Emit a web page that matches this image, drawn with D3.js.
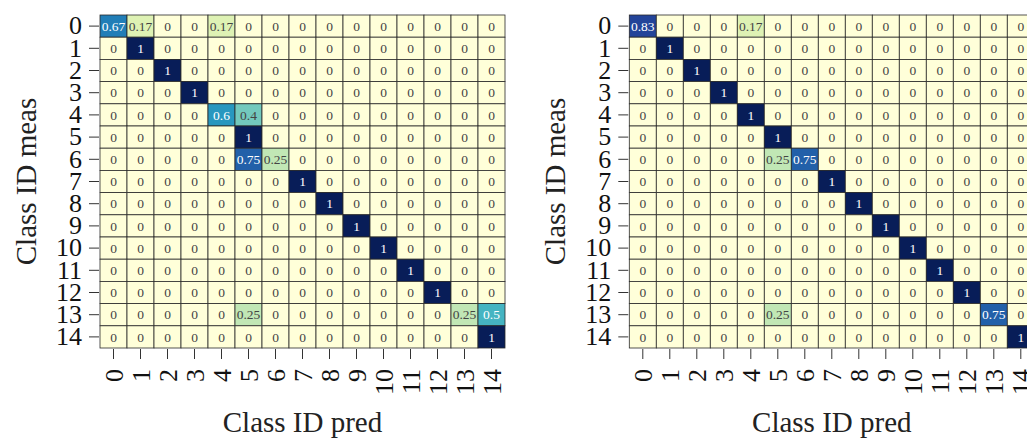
<!DOCTYPE html>
<html>
<head>
<meta charset="utf-8">
<script src="https://cdn.jsdelivr.net/npm/d3@7"></script>
<style>
  html, body { margin: 0; padding: 0; background: #fff; overflow: hidden; }
  svg { display: block; }
  text { font-family: "Liberation Serif", "Times New Roman", serif; }
</style>
</head>
<body>
<svg id="chart" width="1027" height="438"></svg>
<script>
const classes = ["0","1","2","3","4","5","6","7","8","9","10","11","12","13","14"];
const xLabel = "Class ID pred";
const yLabel = "Class ID meas";

// rows = measured class, columns = predicted class
const leftMatrix = [
  [0.67,0.17,0,0,0.17,0,0,0,0,0,0,0,0,0,0],
  [0,1,0,0,0,0,0,0,0,0,0,0,0,0,0],
  [0,0,1,0,0,0,0,0,0,0,0,0,0,0,0],
  [0,0,0,1,0,0,0,0,0,0,0,0,0,0,0],
  [0,0,0,0,0.6,0.4,0,0,0,0,0,0,0,0,0],
  [0,0,0,0,0,1,0,0,0,0,0,0,0,0,0],
  [0,0,0,0,0,0.75,0.25,0,0,0,0,0,0,0,0],
  [0,0,0,0,0,0,0,1,0,0,0,0,0,0,0],
  [0,0,0,0,0,0,0,0,1,0,0,0,0,0,0],
  [0,0,0,0,0,0,0,0,0,1,0,0,0,0,0],
  [0,0,0,0,0,0,0,0,0,0,1,0,0,0,0],
  [0,0,0,0,0,0,0,0,0,0,0,1,0,0,0],
  [0,0,0,0,0,0,0,0,0,0,0,0,1,0,0],
  [0,0,0,0,0,0.25,0,0,0,0,0,0,0,0.25,0.5],
  [0,0,0,0,0,0,0,0,0,0,0,0,0,0,1]
];
const rightMatrix = [
  [0.83,0,0,0,0.17,0,0,0,0,0,0,0,0,0,0],
  [0,1,0,0,0,0,0,0,0,0,0,0,0,0,0],
  [0,0,1,0,0,0,0,0,0,0,0,0,0,0,0],
  [0,0,0,1,0,0,0,0,0,0,0,0,0,0,0],
  [0,0,0,0,1,0,0,0,0,0,0,0,0,0,0],
  [0,0,0,0,0,1,0,0,0,0,0,0,0,0,0],
  [0,0,0,0,0,0.25,0.75,0,0,0,0,0,0,0,0],
  [0,0,0,0,0,0,0,1,0,0,0,0,0,0,0],
  [0,0,0,0,0,0,0,0,1,0,0,0,0,0,0],
  [0,0,0,0,0,0,0,0,0,1,0,0,0,0,0],
  [0,0,0,0,0,0,0,0,0,0,1,0,0,0,0],
  [0,0,0,0,0,0,0,0,0,0,0,1,0,0,0],
  [0,0,0,0,0,0,0,0,0,0,0,0,1,0,0],
  [0,0,0,0,0,0.25,0,0,0,0,0,0,0,0.75,0],
  [0,0,0,0,0,0,0,0,0,0,0,0,0,0,1]
];

const svg = d3.select("#chart");
const color = d3.scaleSequential(d3.interpolateYlGnBu).domain([0, 1]);

function luminance(c) {
  const rgb = d3.rgb(c);
  const f = v => { v /= 255; return v <= 0.03928 ? v / 12.92 : Math.pow((v + 0.055) / 1.055, 2.4); };
  return 0.2126 * f(rgb.r) + 0.7152 * f(rgb.g) + 0.0722 * f(rgb.b);
}

function drawHeatmap(matrix, left, top, width, height) {
  const g = svg.append("g");
  const x = d3.scaleBand().domain(classes).range([left, left + width]).padding(0);
  const y = d3.scaleBand().domain(classes).range([top, top + height]).padding(0);

  const cells = [];
  matrix.forEach((row, i) => row.forEach((v, j) => cells.push({ r: classes[i], c: classes[j], v })));

  g.selectAll("rect.cell").data(cells).enter().append("rect")
    .attr("class", "cell")
    .attr("x", d => x(d.c)).attr("y", d => y(d.r))
    .attr("width", x.bandwidth()).attr("height", y.bandwidth())
    .attr("fill", d => color(d.v))
    .attr("stroke", "#2a2a2a").attr("stroke-width", 0.8);

  g.selectAll("text.val").data(cells).enter().append("text")
    .attr("class", "val")
    .attr("x", d => x(d.c) + x.bandwidth() / 2)
    .attr("y", d => y(d.r) + y.bandwidth() / 2)
    .attr("text-anchor", "middle").attr("dy", "0.35em")
    .attr("font-size", 13.5)
    .attr("fill", d => luminance(color(d.v)) > 0.408 ? "#444444" : "#ffffff")
    .text(d => String(d.v));

  const yAxis = g.append("g")
    .attr("transform", `translate(${left - 1},0)`)
    .call(d3.axisLeft(y).tickSize(10).tickPadding(7));
  yAxis.select(".domain").remove();
  yAxis.selectAll(".tick line").attr("stroke", "#333");
  yAxis.selectAll(".tick text").attr("font-size", 26).attr("fill", "#111")
    .attr("font-family", "Liberation Serif");

  const xAxis = g.append("g")
    .attr("transform", `translate(0,${top + height + 1})`)
    .call(d3.axisBottom(x).tickSize(10).tickPadding(8));
  xAxis.select(".domain").remove();
  xAxis.selectAll(".tick line").attr("stroke", "#333");
  xAxis.selectAll(".tick text")
    .attr("font-size", 26).attr("fill", "#111")
    .attr("font-family", "Liberation Serif")
    .attr("transform", "rotate(-90)")
    .attr("text-anchor", "end")
    .attr("x", -20).attr("y", 0).attr("dy", "0.35em");

  g.append("text")
    .attr("x", left + width / 2).attr("y", 432)
    .attr("text-anchor", "middle").attr("font-size", 29).attr("fill", "#222")
    .text(xLabel);

  g.append("text")
    .attr("transform", `translate(${left - 64},${top + height / 2}) rotate(-90)`)
    .attr("text-anchor", "middle").attr("font-size", 29).attr("fill", "#222")
    .text(yLabel);
}

drawHeatmap(leftMatrix, 100, 15, 405, 333);
drawHeatmap(rightMatrix, 629.3, 15, 405, 333);
</script>
</body>
</html>
